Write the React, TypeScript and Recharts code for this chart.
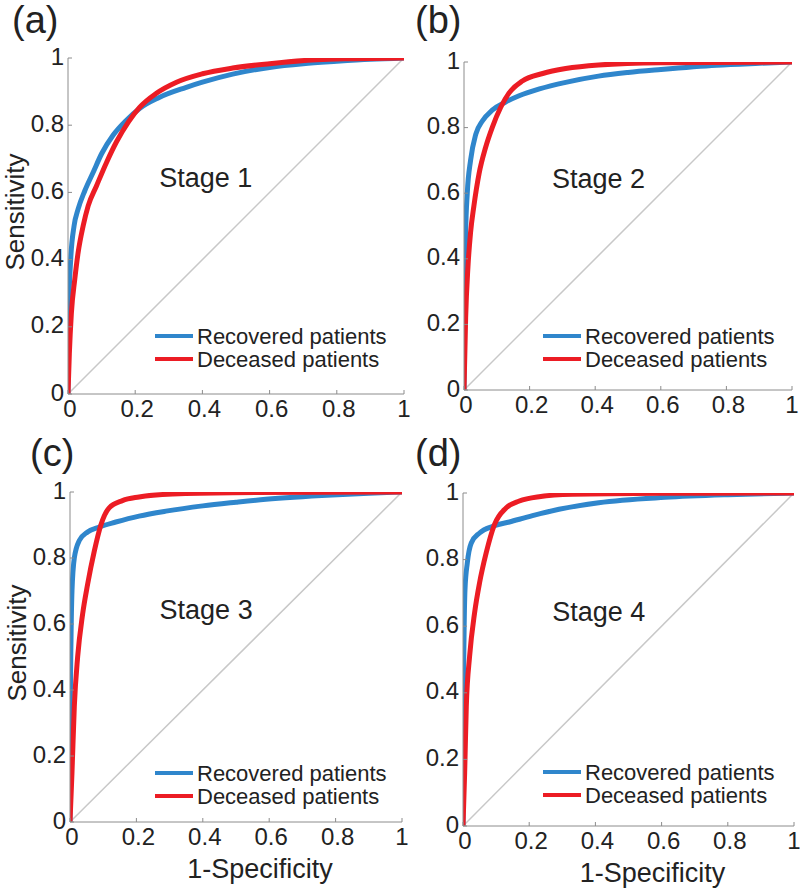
import React from 'react';
import { LineChart, Line, XAxis, YAxis, ReferenceDot, Legend } from 'recharts';

type Pt = [number, number];

const TICKS = [0, 0.2, 0.4, 0.6, 0.8, 1];
const SERIES_NAMES = ['Recovered patients', 'Deceased patients'];
const STAGE_LABELS = ['Stage 1', 'Stage 2', 'Stage 3', 'Stage 4'];
const PANEL_LABELS = ['(a)', '(b)', '(c)', '(d)'];
const X_TITLE = '1-Specificity';
const Y_TITLE = 'Sensitivity';
const CHANCE: Pt[] = [[0, 0], [1, 1]];
const STAGE_TEXT_POS: Pt = [0.41, 0.645];

const stage1Recovered: Pt[] = [[0,0],[0.002,0.25],[0.008,0.4],[0.018,0.5],[0.03,0.55],[0.05,0.605],[0.075,0.66],[0.1,0.715],[0.134,0.77],[0.174,0.815],[0.213,0.85],[0.27,0.882],[0.35,0.912],[0.4,0.928],[0.49,0.952],[0.6,0.972],[0.7,0.983],[0.8,0.99],[0.9,0.996],[1,1]];
const stage1Deceased: Pt[] = [[0,0],[0.004,0.12],[0.01,0.24],[0.02,0.34],[0.03,0.42],[0.045,0.5],[0.06,0.56],[0.085,0.62],[0.115,0.69],[0.144,0.75],[0.18,0.81],[0.213,0.853],[0.263,0.895],[0.323,0.928],[0.4,0.953],[0.49,0.97],[0.6,0.983],[0.74,0.995],[0.85,0.998],[1,1]];
const stage2Recovered: Pt[] = [[0,0],[0.002,0.28],[0.005,0.48],[0.01,0.6],[0.02,0.7],[0.036,0.78],[0.056,0.82],[0.086,0.853],[0.127,0.878],[0.168,0.897],[0.23,0.918],[0.31,0.938],[0.41,0.957],[0.5,0.968],[0.6,0.977],[0.77,0.99],[0.9,0.996],[1,1]];
const stage2Deceased: Pt[] = [[0,0],[0.005,0.22],[0.012,0.375],[0.02,0.48],[0.03,0.56],[0.046,0.66],[0.066,0.74],[0.086,0.8],[0.112,0.862],[0.137,0.905],[0.178,0.942],[0.24,0.965],[0.31,0.98],[0.41,0.991],[0.6,0.998],[1,1]];
const stage3Recovered: Pt[] = [[0,0],[0.001,0.35],[0.003,0.55],[0.006,0.7],[0.013,0.8],[0.028,0.853],[0.053,0.879],[0.088,0.894],[0.138,0.909],[0.208,0.927],[0.289,0.942],[0.4,0.958],[0.5,0.969],[0.59,0.978],[0.79,0.991],[0.9,0.996],[1,1]];
const stage3Deceased: Pt[] = [[0,0],[0.006,0.15],[0.013,0.35],[0.023,0.5],[0.038,0.63],[0.053,0.72],[0.073,0.82],[0.093,0.9],[0.118,0.952],[0.158,0.974],[0.208,0.985],[0.31,0.994],[0.49,0.998],[1,1]];
const stage4Recovered: Pt[] = [[0,0],[0.001,0.36],[0.003,0.56],[0.006,0.71],[0.013,0.79],[0.025,0.85],[0.05,0.88],[0.09,0.9],[0.14,0.913],[0.21,0.932],[0.29,0.951],[0.41,0.971],[0.61,0.987],[0.8,0.995],[1,1]];
const stage4Deceased: Pt[] = [[0,0],[0.005,0.16],[0.01,0.36],[0.02,0.51],[0.035,0.64],[0.05,0.73],[0.07,0.82],[0.095,0.905],[0.13,0.955],[0.17,0.976],[0.23,0.989],[0.33,0.996],[0.6,0.999],[1,1]];

const RECOVERED = [stage1Recovered, stage2Recovered, stage3Recovered, stage4Recovered];
const DECEASED = [stage1Deceased, stage2Deceased, stage3Deceased, stage4Deceased];

const FONT = '"Liberation Sans", Arial, Helvetica, sans-serif';
const TEXT = '#222222';
const AXIS = '#8c8c8c';
const BLUE = '#2f86cc';
const RED = '#ec1c24';
const DIAG = '#c8c8c8';

const ML = 70;
const MT = 22;
const MR = 20;
const MB = 64;

const LAYOUTS = [
  { left: 68, top: 58, w: 336, h: 336, lx: 87, ly: 58, px: 12, py: 33, showY: true, showX: false },
  { left: 464, top: 62, w: 328, h: 328, lx: 79, ly: 54, px: 415, py: 33, showY: false, showX: false },
  { left: 70, top: 492, w: 332, h: 330, lx: 85, ly: 49, px: 30, py: 466, showY: true, showX: true },
  { left: 463, top: 493, w: 331, h: 333, lx: 80, ly: 54, px: 415, py: 466, showY: false, showX: true },
];

const toRows = (pts: Pt[]) => pts.map(([x, y]) => ({ x, y }));

function LegendBox(props: any) {
  const payload = (props.payload || [])
    .filter((p: any) => SERIES_NAMES.indexOf(p.value) >= 0)
    .sort((a: any, b: any) => SERIES_NAMES.indexOf(a.value) - SERIES_NAMES.indexOf(b.value));
  return (
    <div style={{ fontFamily: FONT, fontSize: 22, color: TEXT, lineHeight: '23px', whiteSpace: 'nowrap' }}>
      {payload.map((item: any) => (
        <div key={item.value} style={{ display: 'flex', alignItems: 'center', height: 23 }}>
          <span style={{ display: 'inline-block', width: 38, height: 4, background: item.color, marginRight: 4 }} />
          <span>{item.value}</span>
        </div>
      ))}
    </div>
  );
}

function XTick(props: any) {
  const { x, y, payload } = props;
  return (
    <text x={x + (payload.value < 1 ? 2 : 0)} y={y} dy="0.72em" textAnchor="middle" fill={TEXT} fontSize={24} fontFamily={FONT}>
      {String(payload.value)}
    </text>
  );
}

function YTick(props: any) {
  const { x, y, payload } = props;
  return (
    <text x={x} y={y - 2} dy="0.36em" textAnchor="end" fill={TEXT} fontSize={24} fontFamily={FONT}>
      {String(payload.value)}
    </text>
  );
}

function Panel({ idx }: { idx: number }) {
  const L = LAYOUTS[idx];
  const width = L.w + ML + MR;
  const height = L.h + MT + MB;
  const yLabel = () => {
    const cx = ML - 53;
    const cy = MT + L.h / 2 - 14;
    return (
      <text x={cx} y={cy} transform={`rotate(-90 ${cx} ${cy})`} textAnchor="middle" dominantBaseline="central"
        fill={TEXT} fontSize={26} fontFamily={FONT}>{Y_TITLE}</text>
    );
  };
  const xLabel = () => (
    <text x={ML + L.w / 2 + 24} y={MT + L.h + 56} textAnchor="middle" fill={TEXT} fontSize={27} fontFamily={FONT}>{X_TITLE}</text>
  );
  return (
    <div style={{ position: 'absolute', left: L.left - ML, top: L.top - MT }}>
      <LineChart width={width} height={height} margin={{ top: MT, right: MR, left: 0, bottom: 0 }}>
        <XAxis xAxisId="b" dataKey="x" type="number" domain={[0, 1]} ticks={TICKS} allowDataOverflow
          height={MB} stroke={AXIS} tickSize={-4} tickMargin={10} tick={<XTick />} interval={0}
          label={L.showX ? xLabel : undefined} />
        <XAxis xAxisId="t" orientation="top" dataKey="x" type="number" domain={[0, 1]} ticks={TICKS} allowDataOverflow
          height={0} stroke={AXIS} tickSize={-4} tick={false} interval={0} />
        <YAxis yAxisId="l" type="number" domain={[0, 1]} ticks={TICKS} allowDataOverflow width={ML}
          stroke={AXIS} tickSize={-4} tickMargin={8} tick={<YTick />} interval={0}
          label={L.showY ? yLabel : undefined} />
        <YAxis yAxisId="r" orientation="right" type="number" domain={[0, 1]} ticks={TICKS} allowDataOverflow width={0}
          stroke={AXIS} tickSize={-4} tick={false} interval={0} />
        <Line xAxisId="t" yAxisId="r" data={toRows(CHANCE)} dataKey="y" type="linear" stroke={DIAG} strokeWidth={1.5}
          dot={false} legendType="none" isAnimationActive={false} />
        <Line xAxisId="b" yAxisId="l" data={toRows(RECOVERED[idx])} dataKey="y" name={SERIES_NAMES[0]} type="monotone"
          stroke={BLUE} strokeWidth={5} dot={false} isAnimationActive={false} />
        <Line xAxisId="b" yAxisId="l" data={toRows(DECEASED[idx])} dataKey="y" name={SERIES_NAMES[1]} type="monotone"
          stroke={RED} strokeWidth={5} dot={false} isAnimationActive={false} />
        <ReferenceDot xAxisId="b" yAxisId="l" x={STAGE_TEXT_POS[0]} y={STAGE_TEXT_POS[1]} r={0} fill="none" stroke="none"
          label={{ value: STAGE_LABELS[idx], position: 'center', fill: TEXT, fontSize: 27, fontFamily: FONT }} />
        <Legend layout="vertical" align="center" verticalAlign="middle" content={LegendBox}
          wrapperStyle={{ left: ML + L.lx, top: MT + L.h - L.ly - 11.5, width: 'auto', height: 'auto' }} />
      </LineChart>
    </div>
  );
}

export default function App() {
  return (
    <div style={{ position: 'absolute', left: 0, top: 0, width: 800, height: 888, overflow: 'hidden', background: '#fff' }}>
      <svg width={800} height={888} style={{ position: 'absolute', left: 0, top: 0 }}>
        {LAYOUTS.map((L, i) => (
          <text key={i} x={L.px} y={L.py} fill={TEXT} fontSize={38} fontFamily={FONT}>{PANEL_LABELS[i]}</text>
        ))}
      </svg>
      {LAYOUTS.map((_, i) => <Panel key={i} idx={i} />)}
    </div>
  );
}
